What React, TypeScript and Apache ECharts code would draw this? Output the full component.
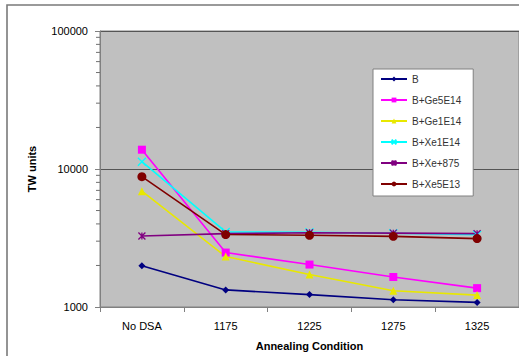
import React, { useEffect, useRef } from "react";
import * as echarts from "echarts";

const categories = ["No DSA", "1175", "1225", "1275", "1325"];

const seriesNames = ["B", "B+Ge5E14", "B+Ge1E14", "B+Xe1E14", "B+Xe+875", "B+Xe5E13"];
const seriesB = [1990, 1330, 1230, 1130, 1080];
const seriesGe5E14 = [13800, 2480, 2030, 1650, 1370];
const seriesGe1E14 = [6900, 2320, 1720, 1310, 1220];
const seriesXe1E14 = [11300, 3500, 3480, 3420, 3340];
const seriesXe875 = [3270, 3400, 3450, 3430, 3400];
const seriesXe5E13 = [8800, 3350, 3310, 3250, 3130];

// logarithmic minor tick positions (2..9 of each decade)
const minorTicks = [
  2000, 3000, 4000, 5000, 6000, 7000, 8000, 9000,
  20000, 30000, 40000, 50000, 60000, 70000, 80000, 90000,
];

const colors = ["#000080", "#ff00ff", "#e8e800", "#00ffff", "#800080", "#800000"];

const crossPath = "path://M0 0L10 10M10 0L0 10";
const starPath = "path://M0 0L10 10M10 0L0 10M5 0L5 10";

export default function App() {
  const ref = useRef<HTMLDivElement>(null);

  useEffect(() => {
    const chart = echarts.init(ref.current!, null, { renderer: "svg" });
    const dataSets = [seriesB, seriesGe5E14, seriesGe1E14, seriesXe1E14, seriesXe875, seriesXe5E13];
    const symbols = ["diamond", "rect", "triangle", crossPath, starPath, "circle"];
    const sizes = [7, 8, 8, 8, 7, 9];

    const lineSeries = dataSets.map((d, i) => {
      const stroked = i === 3 || i === 4;
      return {
        name: seriesNames[i],
        type: "line",
        data: d,
        symbol: symbols[i],
        symbolSize: sizes[i],
        showSymbol: true,
        lineStyle: { color: colors[i], width: 1.6 },
        itemStyle: stroked
          ? { color: colors[i], borderColor: colors[i], borderWidth: 1.3 }
          : { color: colors[i], borderWidth: 0 },
        z: 3,
      };
    });

    chart.setOption({
      animation: false,
      backgroundColor: "#ffffff",
      textStyle: { fontFamily: "Liberation Sans, Arial, sans-serif" },
      grid: {
        left: 100,
        top: 31,
        right: 0,
        bottom: 48,
        show: true,
        backgroundColor: "#c0c0c0",
        borderColor: "#808080",
        borderWidth: 1,
      },
      legend: {
        orient: "vertical",
        left: 373,
        top: 69,
        data: seriesNames,
        backgroundColor: "#ffffff",
        borderColor: "#808080",
        borderWidth: 1,
        padding: [5, 12, 7, 7],
        itemWidth: 26,
        itemHeight: 6,
        itemGap: 11,
        textStyle: { fontSize: 10, color: "#333333", fontFamily: "Liberation Sans, Arial, sans-serif" },
      },
      xAxis: {
        type: "category",
        data: categories,
        boundaryGap: true,
        name: "Annealing Condition",
        nameLocation: "middle",
        nameGap: 33,
        nameTextStyle: { fontWeight: "bold", fontSize: 11, color: "#000000" },
        axisLine: { lineStyle: { color: "#808080" } },
        axisTick: { show: true, length: 5, lineStyle: { color: "#808080" } },
        axisLabel: { fontSize: 11, color: "#000000", margin: 13 },
        splitLine: { show: false },
      },
      yAxis: {
        type: "log",
        logBase: 10,
        min: 1000,
        max: 100000,
        name: "TW units",
        nameLocation: "middle",
        nameGap: 63,
        nameTextStyle: { fontWeight: "bold", fontSize: 11, color: "#000000" },
        axisLine: { show: true, lineStyle: { color: "#808080" } },
        axisTick: { show: true, length: 5, lineStyle: { color: "#808080" } },
        axisLabel: {
          fontSize: 11,
          color: "#000000",
          margin: 12,
          formatter: (v: number) => String(Math.round(v)),
        },
        splitLine: { show: true, lineStyle: { color: "#555555", width: 1 } },
      },
      series: lineSeries,
    });

    // minor ticks of the log axis plus the outer frame, placed via the axis scale
    const plotLeft = chart.convertToPixel({ xAxisIndex: 0 }, categories[0]) as number;
    const halfBand =
      ((chart.convertToPixel({ xAxisIndex: 0 }, categories[1]) as number) - plotLeft) / 2;
    const x0 = plotLeft - halfBand;
    chart.setOption({
      graphic: [
        {
          type: "rect",
          shape: { x: 7, y: 5, width: 600, height: 400 },
          style: { fill: "none", stroke: "#7a7a7a", lineWidth: 1.6 },
          z: 100,
        },
        ...minorTicks.map((v) => {
          const y = chart.convertToPixel({ yAxisIndex: 0 }, v) as number;
          return {
            type: "line",
            shape: { x1: x0 - 4, y1: y, x2: x0, y2: y },
            style: { stroke: "#707070", lineWidth: 1 },
            z: 50,
          };
        }),
      ],
    });

    return () => chart.dispose();
  }, []);

  return (
    <div
      ref={ref}
      style={{ position: "fixed", left: 0, top: 0, width: 519, height: 356 }}
    />
  );
}
